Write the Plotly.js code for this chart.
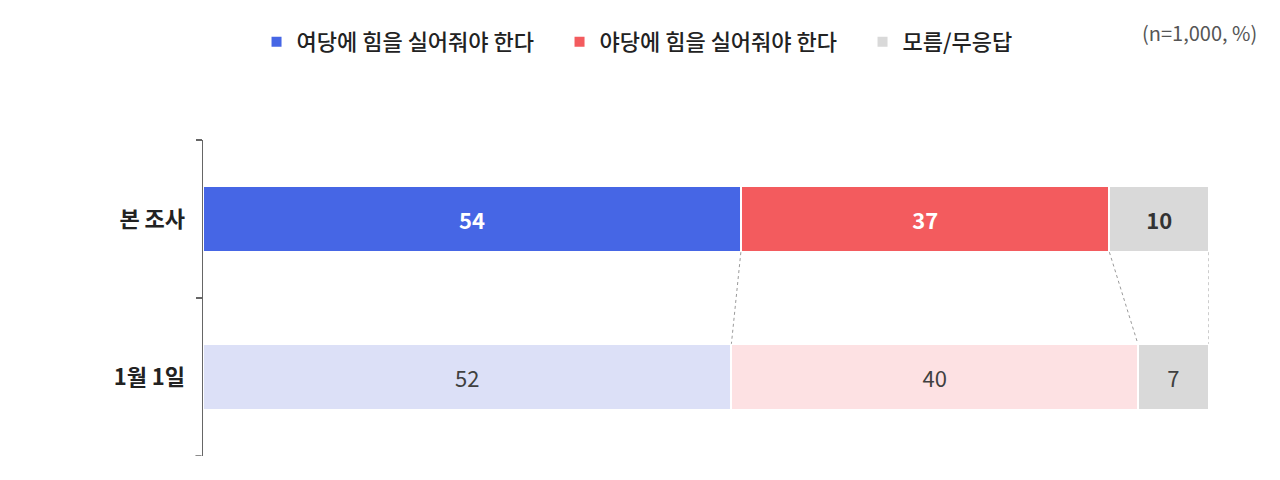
<!DOCTYPE html>
<html>
<head>
<meta charset="utf-8">
<script src="https://cdn.plot.ly/plotly-3.0.1.min.js"></script>
<style>
  html, body { margin: 0; padding: 0; background: #fff; }
  #graph { width: 1280px; height: 480px; }
</style>
</head>
<body>
<div id="graph"></div>
<script>
// survey waves (top to bottom)
var waves = ['본 조사', '1월 1일'];

// answer shares per wave, %
var seriesNames = ['여당에 힘을 실어줘야 한다', '야당에 힘을 실어줘야 한다', '모름/무응답'];
var rulingVals = [54, 52];
var oppositionVals = [37, 40];
var unknownVals = [10, 7];

var sampleNote = '(n=1,000, %)';

var FONT = 'Noto Sans CJK KR, Noto Sans, sans-serif';
var BAR_W = 0.42;

// current wave strong colour, older wave pale colour
var colors = [
  ['#4666E5', '#DCE0F7'],
  ['#F35B5E', '#FDE1E3'],
  ['#D9D9D9', '#D9D9D9']
];
var textColors = [
  ['#ffffff', '#404040'],
  ['#ffffff', '#404040'],
  ['#333333', '#404040']
];

var allVals = [rulingVals, oppositionVals, unknownVals];

function makeTrace(k) {
  return {
    type: 'bar',
    orientation: 'h',
    name: seriesNames[k],
    y: waves,
    x: allVals[k],
    width: BAR_W,
    marker: { color: colors[k], line: { color: '#ffffff', width: 2 } },
    text: allVals[k].map(function (v, i) { return i === 0 ? '<b>' + v + '</b>' : String(v); }),
    textposition: 'inside',
    insidetextanchor: 'middle',
    textfont: { family: FONT, size: 22, color: textColors[k] },
    hoverinfo: 'skip'
  };
}

var data = [makeTrace(0), makeTrace(1), makeTrace(2)];

// dashed connectors between the segment borders of the two waves
var shapes = [];
function cumPct(i) {
  var total = rulingVals[i] + oppositionVals[i] + unknownVals[i];
  var out = [], run = 0;
  for (var k = 0; k < allVals.length; k++) {
    run += allVals[k][i];
    out.push(run / total * 100);
  }
  return out;
}
var topEdges = cumPct(0), lowEdges = cumPct(1);
for (var k = 0; k < topEdges.length; k++) {
  shapes.push({
    type: 'line', xref: 'x', yref: 'y',
    x0: topEdges[k], x1: lowEdges[k],
    y0: 0 + BAR_W / 2, y1: 1 - BAR_W / 2,
    line: { color: '#9a9a9a', width: 1, dash: 'dot' }
  });
}
// closing tick at the bottom of the axis bracket
shapes.push({
  type: 'line', xref: 'paper', yref: 'y',
  x0: -0.0075, x1: -0.0015, y0: waves.length - 0.5, y1: waves.length - 0.5,
  line: { color: '#666', width: 1.5 }
});

var layout = {
  width: 1280,
  height: 480,
  margin: { l: 203, r: 71, t: 140, b: 24 },
  paper_bgcolor: '#ffffff',
  plot_bgcolor: '#ffffff',
  barmode: 'stack',
  barnorm: 'percent',
  font: { family: FONT, color: '#222' },
  showlegend: true,
  legend: {
    orientation: 'h',
    traceorder: 'normal',
    entrywidth: 258,
    entrywidthmode: 'pixels',
    x: 0.505, xanchor: 'center',
    y: 1.31, yanchor: 'middle',
    font: { family: FONT, size: 22, color: '#222', weight: 500 },
    itemclick: false
  },
  xaxis: { range: [0, 100], visible: false, fixedrange: true },
  yaxis: {
    type: 'category',
    range: [1.5, -0.5],
    showline: true, linecolor: '#666', linewidth: 1.5,
    ticks: 'outside', tickson: 'boundaries', ticklen: 6, tickcolor: '#666', tickwidth: 1.5,
    tickfont: { family: FONT, size: 22, color: '#222', weight: 700 },
    ticklabelstandoff: 12,
    showgrid: false, zeroline: false, fixedrange: true
  },
  shapes: shapes,
  annotations: [{
    xref: 'paper', yref: 'paper',
    x: 1.05, y: 1.34, xanchor: 'right', yanchor: 'middle',
    text: sampleNote, showarrow: false,
    font: { family: FONT, size: 20, color: '#555' }
  }]
};

Plotly.newPlot('graph', data, layout, { staticPlot: true });
</script>
</body>
</html>
